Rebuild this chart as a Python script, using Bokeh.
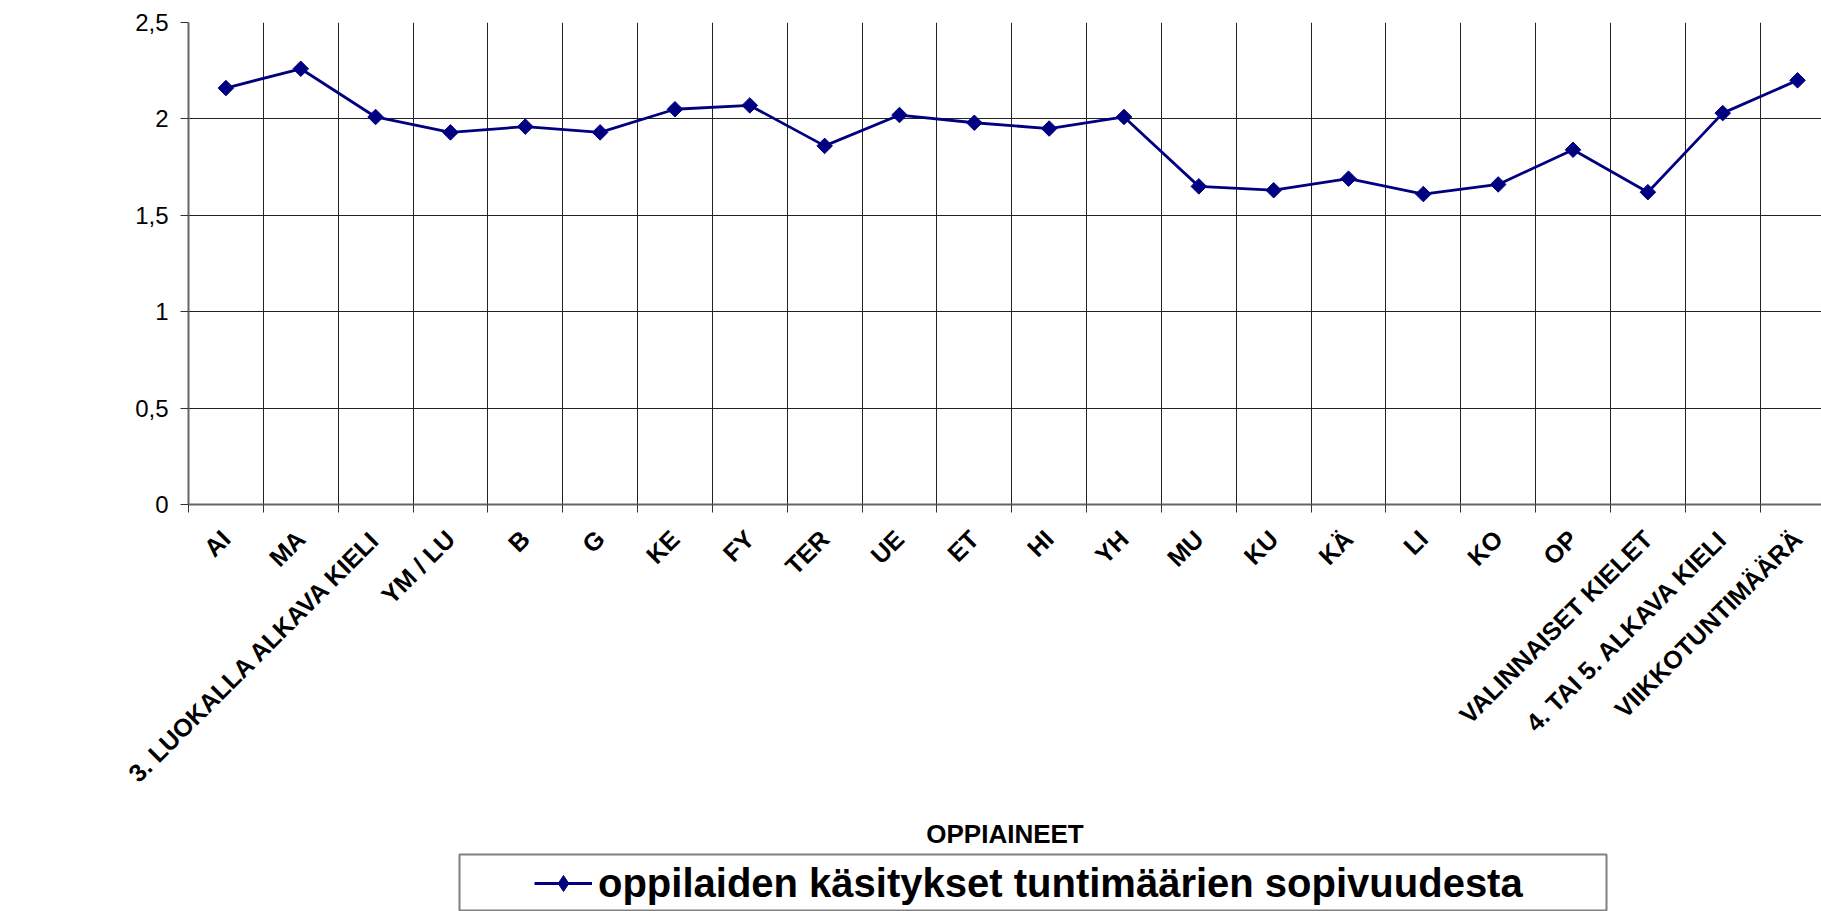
import math
from bokeh.plotting import figure
from bokeh.layouts import column
from bokeh.models import Range1d, FixedTicker, Legend, LegendItem
from bokeh.embed import file_html
from bokeh.resources import INLINE

# ---- data ----
categories = ["AI", "MA", "3. LUOKALLA ALKAVA KIELI", "YM / LU", "B", "G", "KE", "FY",
              "TER", "UE", "ET", "HI", "YH", "MU", "KU", "KÄ", "LI", "KO", "OP",
              "VALINNAISET KIELET", "4. TAI 5. ALKAVA KIELI", "VIIKKOTUNTIMÄÄRÄ"]
values = [2.16, 2.26, 2.01, 1.93, 1.96, 1.93, 2.05, 2.07, 1.86, 2.02, 1.98, 1.95,
          2.01, 1.65, 1.63, 1.69, 1.61, 1.66, 1.84, 1.62, 2.03, 2.20]
y_ticks = [0, 0.5, 1, 1.5, 2, 2.5]
y_tick_labels = ["0", "0,5", "1", "1,5", "2", "2,5"]
series_name = "oppilaiden käsitykset tuntimäärien sopivuudesta"
x_title = "OPPIAINEET"

n = len(categories)
centers = [i + 0.5 for i in range(n)]
bounds = list(range(n + 1))

FONT = "Liberation Sans"
NAVY = "#000080"
W = 1821
H_MAIN = 853
H_LEG = 911 - H_MAIN

p = figure(width=W, height=H_MAIN, output_backend="svg", toolbar_location=None,
           x_range=Range1d(0, 21.82), y_range=Range1d(0, 2.5),
           min_border_left=188, min_border_right=0, min_border_top=22,
           min_border_bottom=H_MAIN - 504)
p.frame_align = False
p.outline_line_color = None
p.background_fill_color = "white"
p.border_fill_color = "white"

# grid
p.xgrid.ticker = FixedTicker(ticks=bounds)
p.ygrid.ticker = FixedTicker(ticks=y_ticks)
for g in (p.xgrid, p.ygrid):
    g.grid_line_color = "#222222"
    g.grid_line_width = 1

# x axis
xa = p.xaxis[0]
xa.ticker = FixedTicker(ticks=centers, minor_ticks=bounds)
xa.major_label_overrides = {c: lab for c, lab in zip(centers, categories)}
xa.major_label_orientation = math.pi / 4
xa.major_tick_out = 0
xa.major_tick_in = 0
xa.minor_tick_out = 8
xa.minor_tick_in = 0
xa.minor_tick_line_color = "#333333"
xa.axis_line_color = "#666666"
xa.axis_line_width = 2
xa.major_label_text_font = FONT
xa.major_label_text_font_style = "bold"
xa.major_label_text_font_size = "25px"
xa.major_label_text_color = "black"
xa.major_label_standoff = 22
xa.axis_label = x_title
xa.axis_label_text_font = FONT
xa.axis_label_text_font_style = "bold"
xa.axis_label_text_font_size = "26px"
xa.axis_label_text_color = "black"
xa.axis_label_standoff = 19

# y axis
ya = p.yaxis[0]
ya.ticker = FixedTicker(ticks=y_ticks, minor_ticks=[])
ya.major_label_overrides = {t: lab for t, lab in zip(y_ticks, y_tick_labels)}
ya.major_tick_out = 8
ya.major_tick_in = 0
ya.major_tick_line_color = "#333333"
ya.axis_line_color = "#666666"
ya.axis_line_width = 2
ya.major_label_text_font = FONT
ya.major_label_text_font_size = "24px"
ya.major_label_text_color = "black"
ya.major_label_standoff = 12

# series
p.line(x=centers, y=values, line_color=NAVY, line_width=2.8)
p.scatter(x=centers, y=values, marker="square", angle=math.pi / 4, size=11,
          fill_color=NAVY, line_color=NAVY)

# ---- legend strip (its frame outline is the legend box) ----
pl = figure(width=W, height=H_LEG, output_backend="svg", toolbar_location=None,
            x_range=Range1d(-200, -199), y_range=Range1d(-200, -199),
            x_axis_location=None, y_axis_location=None,
            min_border_left=459, min_border_right=W - 1606,
            min_border_top=1, min_border_bottom=0)
pl.frame_align = False
pl.grid.visible = False
pl.outline_line_color = "#808080"
pl.outline_line_width = 2
pl.background_fill_color = "white"
pl.border_fill_color = "white"

# same series, drawn off-range here: only its legend swatch is seen
leg_line = pl.line(x=centers, y=values, line_color=NAVY, line_width=2.8)
leg_pts = pl.scatter(x=centers, y=values, marker="diamond", size=11,
                     fill_color=NAVY, line_color=NAVY)

leg = Legend(items=[LegendItem(label=series_name, renderers=[leg_line, leg_pts])],
             location=(68, -2), orientation="horizontal",
             padding=7, glyph_width=58, glyph_height=40, label_height=46,
             label_standoff=6, border_line_alpha=0, background_fill_alpha=0,
             label_text_font=FONT, label_text_font_style="bold",
             label_text_font_size="40px", label_text_color="black")
pl.add_layout(leg)

layout = column(p, pl, spacing=0)
open("out.html", "w").write(file_html(layout, INLINE))
